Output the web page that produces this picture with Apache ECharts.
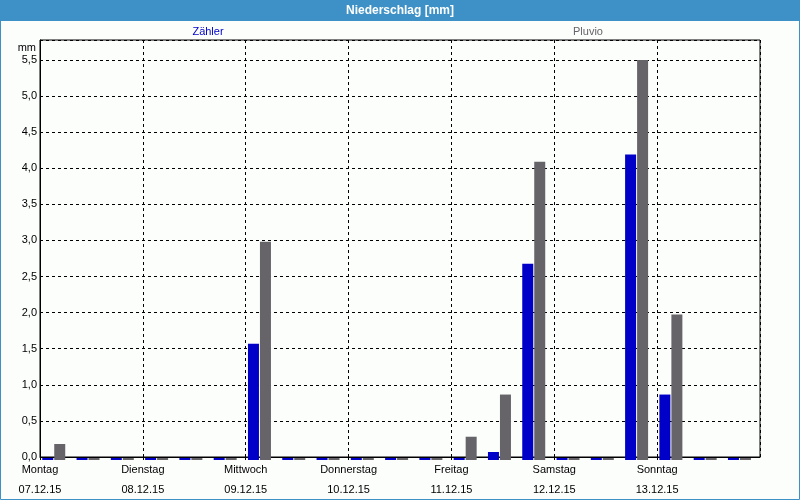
<!DOCTYPE html>
<html>
<head>
<meta charset="utf-8">
<script src="https://cdn.jsdelivr.net/npm/echarts@6/dist/echarts.min.js"></script>
<style>
  html, body { margin: 0; padding: 0; background: #fcfefc; }
  #chart { width: 800px; height: 500px; }
</style>
</head>
<body>
<div id="chart"></div>
<script>
// 8-Stunden-Werte, Mo 07.12.15 00:00 bis So 13.12.15 24:00
const days = ['Montag', 'Dienstag', 'Mittwoch', 'Donnerstag', 'Freitag', 'Samstag', 'Sonntag'];
const dates = ['07.12.15', '08.12.15', '09.12.15', '10.12.15', '11.12.15', '12.12.15', '13.12.15'];
const slots = ['Mo 0', 'Mo 8', 'Mo 16', 'Di 0', 'Di 8', 'Di 16', 'Mi 0', 'Mi 8', 'Mi 16',
  'Do 0', 'Do 8', 'Do 16', 'Fr 0', 'Fr 8', 'Fr 16', 'Sa 0', 'Sa 8', 'Sa 16', 'So 0', 'So 8', 'So 16'];
const zaehler = [0, 0, 0, 0, 0, 0, 1.6, 0, 0, 0, 0, 0, 0, 0.11, 2.7, 0, 0, 4.2, 0.9, 0, 0];
const pluvio = [0.22, 0, 0, 0, 0, 0, 3.0, 0, 0, 0, 0, 0, 0.32, 0.9, 4.1, 0, 0, 5.5, 2.0, 0, 0];
const yTicks = [0, 0.5, 1, 1.5, 2, 2.5, 3, 3.5, 4, 4.5, 5, 5.5];

const frameBlue = '#3d91c7';
const font = 'Liberation Sans, Arial, sans-serif';
const yMax = 5.775;

const chart = echarts.init(document.getElementById('chart'));

const option = {
  backgroundColor: '#fcfefc',
  animation: false,
  textStyle: { fontFamily: font },
  graphic: [
    { type: 'rect', shape: { x: 0.5, y: 0.5, width: 799, height: 499 },
      style: { fill: 'none', stroke: frameBlue, lineWidth: 1 }, z: 10 },
    { type: 'rect', shape: { x: 0, y: 0, width: 800, height: 21 },
      style: { fill: frameBlue }, z: 10 },
    { type: 'text', x: 400, y: 11, z: 11,
      style: { text: 'Niederschlag [mm]', fill: '#fff', font: 'bold 12px ' + font,
        align: 'center', verticalAlign: 'middle' } },
    { type: 'text', x: 208, y: 32, z: 11,
      style: { text: 'Zähler', fill: '#0000c8', font: '11px ' + font,
        align: 'center', verticalAlign: 'middle' } },
    { type: 'text', x: 588, y: 32, z: 11,
      style: { text: 'Pluvio', fill: '#666468', font: '11px ' + font,
        align: 'center', verticalAlign: 'middle' } }
  ],
  grid: [
    { left: 40, right: 40, top: 40, bottom: 40, show: true, borderColor: '#000', borderWidth: 1 },
    { left: 36.6, right: 43.4, top: 40, bottom: 40 }
  ],
  xAxis: [
    {
      type: 'value', gridIndex: 0, min: 0, max: days.length, interval: 1,
      axisLine: { show: true, lineStyle: { color: '#000' } },
      axisTick: { show: true, length: 3, lineStyle: { color: '#000' } },
      axisLabel: {
        color: '#000', fontSize: 11, lineHeight: 20, margin: 3, showMaxLabel: false,
        formatter: (v) => (days[v] ? days[v] + '\n' + dates[v] : '')
      },
      splitLine: { show: true, lineStyle: { color: '#000', type: [3, 3] } }
    },
    {
      type: 'category', gridIndex: 1, data: slots,
      axisLine: { show: false }, axisTick: { show: false }, axisLabel: { show: false },
      splitLine: { show: false }
    }
  ],
  yAxis: [
    {
      type: 'value', gridIndex: 0, min: 0, max: yMax, interval: 0.5,
      name: 'mm', nameLocation: 'end', nameGap: -2,
      nameTextStyle: { color: '#000', fontSize: 11, align: 'right', verticalAlign: 'top', padding: [0, 4, 0, 0] },
      axisLine: { show: true, lineStyle: { color: '#000' } },
      axisTick: { show: false },
      axisLabel: {
        color: '#000', fontSize: 11, margin: 3, showMaxLabel: false,
        formatter: (v) => (yTicks.indexOf(v) >= 0 ? v.toFixed(1).replace('.', ',') : '')
      },
      splitLine: { show: true, lineStyle: { color: '#000', type: [3, 3] } }
    },
    { type: 'value', gridIndex: 1, min: 0, max: yMax, show: false, splitLine: { show: false } }
  ],
  series: [
    {
      name: 'Zähler', type: 'bar', xAxisIndex: 1, yAxisIndex: 1, data: zaehler,
      barWidth: 11, barGap: '9%', barMinHeight: 2,
      itemStyle: { color: '#0000c8' }
    },
    {
      name: 'Pluvio', type: 'bar', xAxisIndex: 1, yAxisIndex: 1, data: pluvio,
      barWidth: 11, barGap: '9%', barMinHeight: 2,
      itemStyle: { color: '#666468' }
    }
  ]
};

chart.setOption(option);
</script>
</body>
</html>
